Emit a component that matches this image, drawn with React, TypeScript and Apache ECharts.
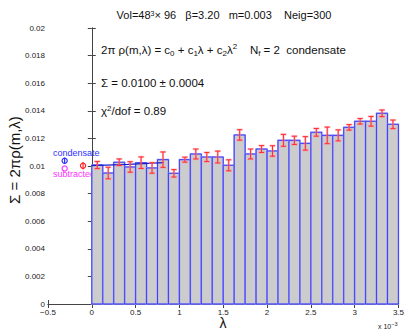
import React, { useEffect, useRef } from "react";
import * as echarts from "echarts";

// bin edges (units of 1e-3)
const binStarts = [0, 0.125, 0.25, 0.375, 0.5, 0.625, 0.75, 0.875, 1.0, 1.125, 1.25, 1.375, 1.5, 1.625, 1.75, 1.875, 2.0, 2.125, 2.25, 2.375, 2.5, 2.625, 2.75, 2.875, 3.0, 3.125, 3.25, 3.375];
const binWidth = 0.125;
const binValues = [0.01007, 0.00949, 0.01027, 0.00993, 0.01024, 0.00986, 0.01046, 0.00947, 0.01046, 0.01087, 0.01065, 0.01065, 0.01005, 0.01225, 0.01087, 0.01123, 0.01109, 0.01186, 0.01186, 0.01164, 0.01244, 0.01222, 0.01222, 0.0128, 0.01324, 0.01324, 0.01382, 0.01302];
const binErrors = [0.00026, 0.00042, 0.00024, 0.00038, 0.00042, 0.00038, 0.00056, 0.00027, 0.00018, 0.00036, 0.00033, 0.00043, 0.0004, 0.00038, 0.00036, 0.00025, 0.00038, 0.00043, 0.0003, 0.00049, 0.00028, 0.0006, 0.0004, 0.0002, 0.0002, 0.00035, 0.00024, 0.00031];

const fitLine = [[0, 0.01003], [0.41, 0.01012], [0.82, 0.01025]];

const condensatePoint = [-0.31, 0.01038, 0.00022];
const subtractedPoint = [-0.31, 0.00982, 0];
const sigmaPoint = [-0.1, 0.01002, 0.00027];

const FONT = "Liberation Sans, Arial, Helvetica, sans-serif";

export default function App() {
  const ref = useRef<HTMLDivElement>(null);
  useEffect(() => {
    if (!ref.current) return;
    const chart = echarts.init(ref.current, undefined, { renderer: "svg" });

    const barData = binStarts.map((s, i) => [s, s + binWidth, binValues[i]]);
    const errData = binStarts.map((s, i) => [s + binWidth / 2, binValues[i] - binErrors[i], binValues[i] + binErrors[i]]);

    const axisLine = { show: true, lineStyle: { color: "#444", width: 1 } };
    const axisTick = { show: true, inside: true, length: 4, lineStyle: { color: "#444" } };

    const xFmt = (v: number) => {
      const s = String(parseFloat(v.toFixed(3)));
      return s.replace("-", "\u2212");
    };
    const yFmt = (v: number) => String(parseFloat(v.toFixed(4)));

    const markerSeries = (pt: number[], color: string) => ({
      type: "custom",
      data: [pt],
      z: 10,
      renderItem: (params: any, api: any) => {
        const x = api.value(0), y = api.value(1), e = api.value(2);
        const c = api.coord([x, y]);
        const children: any[] = [
          { type: "circle", shape: { cx: c[0], cy: c[1], r: 2.6 }, style: { fill: "none", stroke: color, lineWidth: 1.2 } },
        ];
        if (e > 0) {
          const a = api.coord([x, y - e]);
          const b = api.coord([x, y + e]);
          children.push({ type: "line", shape: { x1: a[0], y1: a[1], x2: b[0], y2: b[1] }, style: { stroke: color, lineWidth: 1.2 } });
        }
        return { type: "group", children };
      },
    });

    const errSeries = (color: string, width: number, cap: number, opacity: number, z: number) => ({
      type: "custom",
      data: errData,
      z,
      renderItem: (params: any, api: any) => {
        const x = api.value(0), lo = api.value(1), hi = api.value(2);
        const a = api.coord([x, lo]);
        const b = api.coord([x, hi]);
        const st = { stroke: color, lineWidth: width, opacity };
        return {
          type: "group",
          children: [
            { type: "line", shape: { x1: a[0], y1: a[1], x2: b[0], y2: b[1] }, style: st },
            { type: "line", shape: { x1: a[0] - cap, y1: a[1], x2: a[0] + cap, y2: a[1] }, style: st },
            { type: "line", shape: { x1: b[0] - cap, y1: b[1], x2: b[0] + cap, y2: b[1] }, style: st },
          ],
        };
      },
    });

    const option: any = {
      animation: false,
      backgroundColor: "#ffffff",
      grid: { left: 48, right: 8, top: 28, bottom: 31, show: false },
      xAxis: [
        {
          type: "value", min: -0.5, max: 3.5, interval: 0.5, position: "bottom",
          axisLine, axisTick, splitLine: { show: false },
          axisLabel: { fontSize: 8, lineHeight: 8, color: "#222", fontFamily: FONT, margin: 4, formatter: xFmt },
        },
        {
          type: "value", min: -0.5, max: 3.5, interval: 0.5, position: "top",
          axisLine, axisTick, splitLine: { show: false }, axisLabel: { show: false },
        },
      ],
      yAxis: [
        {
          type: "value", min: 0, max: 0.02, interval: 0.002, position: "left",
          axisLine, axisTick, splitLine: { show: false },
          axisLabel: { fontSize: 8, lineHeight: 8, color: "#222", fontFamily: FONT, margin: 3, formatter: yFmt },
        },
        {
          type: "value", min: 0, max: 0.02, interval: 0.002, position: "right",
          axisLine, axisTick, splitLine: { show: false }, axisLabel: { show: false },
        },
      ],
      series: [
        {
          type: "custom",
          data: barData,
          z: 2,
          renderItem: (params: any, api: any) => {
            const p0 = api.coord([api.value(0), api.value(2)]);
            const p1 = api.coord([api.value(1), 0]);
            return {
              type: "group",
              children: [
                {
                  type: "rect",
                  shape: { x: p0[0], y: p0[1], width: p1[0] - p0[0], height: p1[1] - p0[1] },
                  style: { fill: "#cccccc", stroke: "#9a9aff", lineWidth: 1.6, opacity: 1 },
                },
                {
                  type: "rect",
                  shape: { x: p0[0], y: p0[1], width: p1[0] - p0[0], height: p1[1] - p0[1] },
                  style: { fill: "none", stroke: "#3838f0", lineWidth: 0.9 },
                },
              ],
            };
          },
        },
        {
          type: "line",
          data: fitLine,
          z: 5,
          showSymbol: false,
          symbol: "none",
          lineStyle: { color: "#1a1acc", width: 1.2 },
        },
        errSeries("#ff8a9a", 2.2, 3.2, 0.55, 6),
        errSeries("#ff2f2f", 1, 2.5, 1, 7),
        markerSeries(condensatePoint, "#2b2bff"),
        markerSeries(subtractedPoint, "#ff33ff"),
        markerSeries(sigmaPoint, "#ff2222"),
      ],
      graphic: [
        {
          type: "text", x: 224, y: 15,
          style: {
            text: "Vol=48{sup|3}× 96   β=3.20   m=0.003    Neig=300",
            fontSize: 11, fontFamily: FONT, fill: "#111", align: "center", verticalAlign: "middle",
            rich: { sup: { fontSize: 7, verticalAlign: "top", fontFamily: FONT, fill: "#111" } },
          },
        },
        {
          type: "text", x: 101, y: 50,
          style: {
            text: "2π ρ(m,λ) = c{sub|0} + c{sub|1}λ + c{sub|2}λ{sup|2}    N{sub|f} = 2  condensate",
            fontSize: 11.5, fontFamily: FONT, fill: "#111", align: "left", verticalAlign: "middle",
            rich: {
              sub: { fontSize: 8, fontFamily: FONT, fill: "#111", verticalAlign: "bottom", padding: [7, 0, 0, 0] },
              sup: { fontSize: 8, fontFamily: FONT, fill: "#111", verticalAlign: "top", padding: [0, 0, 6, 0] },
            },
          },
        },
        {
          type: "text", x: 101, y: 83,
          style: { text: "Σ = 0.0100 ± 0.0004", fontSize: 11.5, fontFamily: FONT, fill: "#111", align: "left", verticalAlign: "middle" },
        },
        {
          type: "text", x: 101, y: 111,
          style: {
            text: "χ{sup|2}/dof = 0.89",
            fontSize: 11.5, fontFamily: FONT, fill: "#111", align: "left", verticalAlign: "middle",
            rich: { sup: { fontSize: 8, fontFamily: FONT, fill: "#111", verticalAlign: "top", padding: [0, 0, 6, 0] } },
          },
        },
        {
          type: "text", x: 53, y: 153,
          style: { text: "condensate", fontSize: 9, fontFamily: FONT, fill: "#3030ff", align: "left", verticalAlign: "middle" },
        },
        {
          type: "text", x: 53, y: 174,
          style: { text: "subtracted", fontSize: 9, fontFamily: FONT, fill: "#ff33ff", align: "left", verticalAlign: "middle" },
        },
        {
          type: "text", x: 14, y: 160, rotation: Math.PI / 2,
          style: { text: "Σ = 2πρ(m,λ)", fontSize: 15, fontFamily: FONT, fill: "#111", align: "center", verticalAlign: "middle" },
        },
        {
          type: "text", x: 223, y: 323,
          style: { text: "λ", fontSize: 14, lineHeight: 14, fontFamily: FONT, fill: "#111", align: "center", verticalAlign: "middle" },
        },
        {
          type: "text", x: 378, y: 326,
          style: {
            text: "x 10{sup|−3}",
            fontSize: 7, fontFamily: FONT, fill: "#222", align: "left", verticalAlign: "middle",
            rich: { sup: { fontSize: 5.5, fontFamily: FONT, fill: "#222", verticalAlign: "top", padding: [0, 0, 5, 0] } },
          },
        },
      ],
    };
    chart.setOption(option);
    return () => chart.dispose();
  }, []);
  return <div ref={ref} style={{ position: "absolute", left: 0, top: 0, width: 407, height: 335 }} />;
}
